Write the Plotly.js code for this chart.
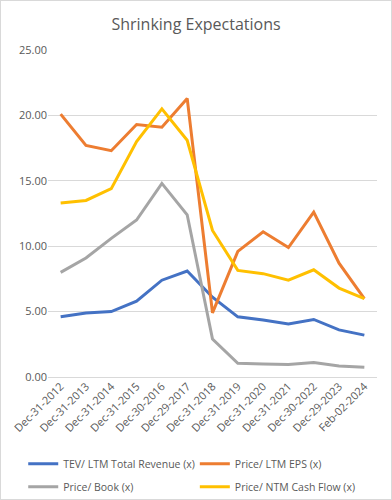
<!DOCTYPE html>
<html><head><meta charset="utf-8">
<script src="https://cdn.plot.ly/plotly-3.0.1.min.js"></script>
<style>html,body{margin:0;padding:0;background:#fff}#c{width:392px;height:500px;box-sizing:border-box;border:1px solid #d9d9d9}</style>
</head><body><div id="c"></div>
<script>
const dates = ["Dec-31-2012","Dec-31-2013","Dec-31-2014","Dec-31-2015","Dec-30-2016","Dec-29-2017","Dec-31-2018","Dec-31-2019","Dec-31-2020","Dec-31-2021","Dec-30-2022","Dec-29-2023","Feb-02-2024"];
const tevRevenue = [4.6,4.9,5.0,5.8,7.4,8.1,6.1,4.6,4.35,4.05,4.4,3.6,3.2];
const priceEps = [20.1,17.7,17.3,19.3,19.1,21.3,4.9,9.6,11.1,9.9,12.6,8.7,6.0];
const priceBook = [8.0,9.1,10.6,12.0,14.8,12.4,2.9,1.05,1.0,0.95,1.1,0.85,0.75];
const priceCashFlow = [13.3,13.5,14.4,18.0,20.5,18.1,11.2,8.15,7.9,7.4,8.2,6.8,6.0];

const mk = (y,name,color,lg)=>({x:dates,y:y,name:name,type:'scatter',mode:'lines',line:{color:color,width:3},legend:lg,legendgroup:name});
const data = [
  mk(tevRevenue,'TEV/ LTM Total Revenue (x)','#4472c4','legend'),
  mk(priceEps,'Price/ LTM EPS (x)','#ed7d31','legend2'),
  mk(priceBook,'Price/ Book (x)','#a5a5a5','legend'),
  mk(priceCashFlow,'Price/ NTM Cash Flow (x)','#ffc000','legend2')
];
const legBase = {orientation:'v',xref:'container',yref:'container',xanchor:'left',y:0.1,yanchor:'top',font:{size:10.5,color:'#595959'},tracegroupgap:4,itemwidth:30,bgcolor:'rgba(0,0,0,0)'};
const layout = {
  width:390,height:498,
  margin:{l:47,r:14,t:49,b:122,autoexpand:false},
  paper_bgcolor:'#fff',plot_bgcolor:'#fff',
  font:{family:'Open Sans, sans-serif',color:'#595959',size:11},
  title:{text:'Shrinking Expectations',x:0.5,xanchor:'center',y:0.965,yanchor:'top',font:{size:16,color:'#595959'}},
  xaxis:{type:'category',automargin:false,tickangle:-45,showgrid:false,showline:false,zeroline:false,ticks:'',tickfont:{size:11,color:'#595959'},range:[-0.5,12.5]},
  yaxis:{automargin:false,range:[0,25],dtick:5,tickformat:'.2f',gridcolor:'#d9d9d9',gridwidth:1,zeroline:true,zerolinecolor:'#d9d9d9',showline:false,ticks:'',tickfont:{size:11,color:'#595959'}},
  showlegend:true,
  legend:Object.assign({},legBase,{x:0.057}),
  legend2:Object.assign({},legBase,{x:0.497})
};
Plotly.newPlot('c',data,layout,{displayModeBar:false,staticPlot:true});
</script></body></html>
